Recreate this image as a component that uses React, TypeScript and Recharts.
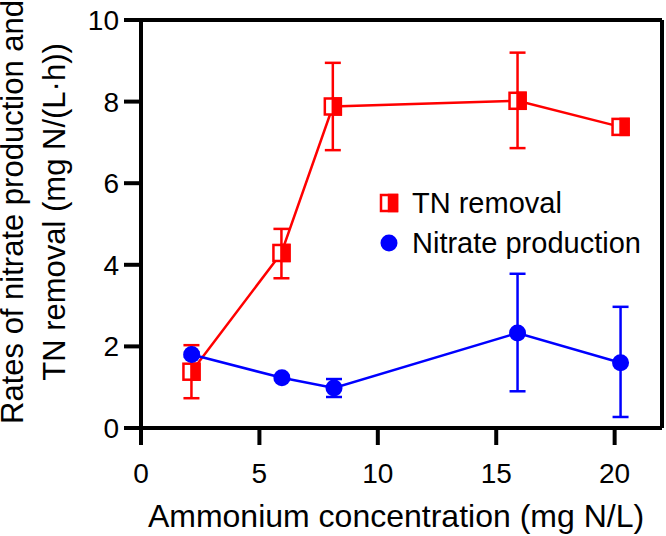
import React from "react";
import { LineChart, Line, XAxis, YAxis, ErrorBar, ReferenceLine } from "recharts";

const tnX = [2.13, 5.93, 8.1, 15.9, 20.25];
const tnY = [1.38, 4.29, 7.88, 8.02, 7.38];
const tnHi = [2.03, 4.88, 8.95, 9.2, 7.48];
const tnLo = [0.73, 3.67, 6.81, 6.86, 7.28];

const niX = [2.14, 5.95, 8.15, 15.9, 20.25];
const niY = [1.8, 1.23, 0.98, 2.33, 1.6];
const niHi = [1.85, 1.28, 1.2, 3.78, 2.97];
const niLo = [1.75, 1.18, 0.76, 0.9, 0.27];

const xTicks = [0, 5, 10, 15, 20];
const yTicks = [0, 2, 4, 6, 8, 10];

const build = (xs: number[], ys: number[], hi: number[], lo: number[]) =>
  xs.map((x, i) => ({ x, y: ys[i], err: [ys[i] - lo[i], hi[i] - ys[i]] }));

const tnData = build(tnX, tnY, tnHi, tnLo);
const niData = build(niX, niY, niHi, niLo);

const RED = "#FF0000";
const BLUE = "#0000FF";
const FONT = "'Liberation Sans', Arial, sans-serif";

const HalfSquare = (props: any) => {
  const { cx, cy } = props;
  if (cx == null || cy == null) return null;
  const s = 16;
  return (
    <g>
      <rect x={cx - s / 2} y={cy - s / 2} width={s} height={s} fill="#fff" stroke={RED} strokeWidth={2.5} />
      <rect x={cx} y={cy - s / 2} width={s / 2} height={s} fill={RED} stroke={RED} strokeWidth={2.5} />
    </g>
  );
};

const Dot = (props: any) => {
  const { cx, cy } = props;
  if (cx == null || cy == null) return null;
  return <circle cx={cx} cy={cy} r={8.5} fill={BLUE} />;
};

const YLabel = () => (
  <text fontFamily={FONT} fontSize={31} fill="#000" textAnchor="middle" transform="rotate(-90)">
    <tspan x={-212} y={23}>Rates of nitrate production and</tspan>
    <tspan x={-212} y={65}>TN removal (mg N/(L·h))</tspan>
  </text>
);

const XLabel = () => (
  <text x={396} y={527} fontFamily={FONT} fontSize={32} fill="#000" textAnchor="middle">
    Ammonium concentration (mg N/L)
  </text>
);

export default function App() {
  return (
    <div style={{ position: "absolute", left: 0, top: 0, width: 666, height: 536, background: "#fff" }}>
      <LineChart width={666} height={536} margin={{ top: 20, right: 4, left: 0, bottom: 0 }}>
        <XAxis
          type="number"
          dataKey="x"
          domain={[0, 22]}
          ticks={xTicks}
          height={108}
          axisLine={{ stroke: "#000", strokeWidth: 4 }}
          tickLine={{ stroke: "#000", strokeWidth: 4 }}
          tickSize={17}
          tickMargin={18}
          tick={{ fill: "#000", fontSize: 28, fontFamily: FONT }}
          label={<XLabel />}
        />
        <YAxis
          type="number"
          domain={[0, 10]}
          ticks={yTicks}
          width={141}
          axisLine={{ stroke: "#000", strokeWidth: 4 }}
          tickLine={{ stroke: "#000", strokeWidth: 4 }}
          tickSize={17}
          tickMargin={5}
          tick={{ fill: "#000", fontSize: 28, fontFamily: FONT }}
          label={<YLabel />}
        />
        <ReferenceLine y={10} stroke="#000" strokeWidth={4} />
        <ReferenceLine x={22} stroke="#000" strokeWidth={4} />
        <Line
          data={tnData}
          dataKey="y"
          name="TN removal"
          stroke={RED}
          strokeWidth={2.5}
          dot={<HalfSquare />}
          activeDot={false}
          isAnimationActive={false}
        >
          <ErrorBar dataKey="err" direction="y" width={8} stroke={RED} strokeWidth={2.5} />
        </Line>
        <Line
          data={niData}
          dataKey="y"
          name="Nitrate production"
          stroke={BLUE}
          strokeWidth={2.5}
          dot={<Dot />}
          activeDot={false}
          isAnimationActive={false}
        >
          <ErrorBar dataKey="err" direction="y" width={8} stroke={BLUE} strokeWidth={2.5} />
        </Line>
      </LineChart>
      <div style={{ position: "absolute", left: 374, top: 183, fontFamily: FONT, fontSize: 29, color: "#000", lineHeight: "40px" }}>
        <div style={{ display: "flex", alignItems: "center" }}>
          <svg width={30} height={24} style={{ marginRight: 8 }}>
            <HalfSquare cx={15} cy={12} />
          </svg>
          <span>TN removal</span>
        </div>
        <div style={{ display: "flex", alignItems: "center" }}>
          <svg width={30} height={24} style={{ marginRight: 8 }}>
            <Dot cx={15} cy={12} />
          </svg>
          <span>Nitrate production</span>
        </div>
      </div>
    </div>
  );
}
